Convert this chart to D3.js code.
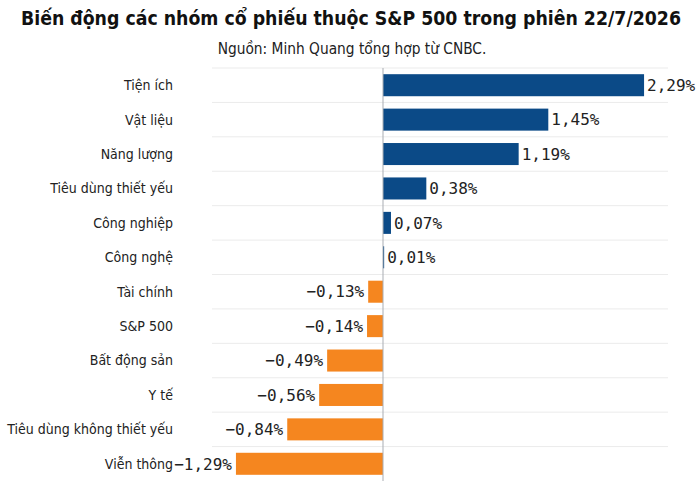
<!DOCTYPE html>
<html lang="vi">
<head>
<meta charset="UTF-8">
<script src="https://d3js.org/d3.v7.min.js"></script>
<style>
  body { margin: 0; background: #fff; }
  svg { display: block; }
</style>
</head>
<body>
<div id="chart"></div>
<script>
  var width = 700;
  var height = 481;

  // data
  const categories = ["Tiện ích", "Vật liệu", "Năng lượng", "Tiêu dùng thiết yếu", "Công nghiệp", "Công nghệ",
    "Tài chính", "S&P 500", "Bất động sản", "Y tế", "Tiêu dùng không thiết yếu", "Viễn thông"];
  const values = [2.29, 1.45, 1.19, 0.38, 0.07, 0.01, -0.13, -0.14, -0.49, -0.56, -0.84, -1.29];
  const xDomain = [-1.5, 2.5];

  const title = "Biến động các nhóm cổ phiếu thuộc S&P 500 trong phiên 22/7/2026";
  const subtitle = "Nguồn: Minh Quang tổng hợp từ CNBC.";

  const sans = "'DejaVu Sans Condensed', 'DejaVu Sans', sans-serif";
  const mono = "'DejaVu Sans Mono', monospace";

  const rows = categories.map((c, i) => ({ name: c, value: values[i] }));

  var svg = d3.select("#chart").append("svg")
    .attr("width", width).attr("height", height);

  const x = d3.scaleLinear().domain(xDomain).range([212, 668]);
  const y = d3.scaleBand().domain(categories).range([68, 481]).paddingInner(0.36).paddingOuter(0.18);

  // title + source
  svg.append("text").attr("x", 351).attr("y", 25)
    .attr("text-anchor", "middle")
    .style("font-family", sans).style("font-weight", "bold").style("font-size", "19.3px")
    .attr("fill", "#111").text(title);
  svg.append("text").attr("x", 352).attr("y", 54)
    .attr("text-anchor", "middle")
    .style("font-family", sans).style("font-size", "15.3px")
    .attr("fill", "#222").text(subtitle);

  // row separators
  const step = y.step();
  svg.append("g").selectAll("line").data(categories).enter().append("line")
    .attr("x1", x.range()[0]).attr("x2", x.range()[1])
    .attr("y1", d => y(d) - step * 0.18).attr("y2", d => y(d) - step * 0.18)
    .attr("stroke", "#ebebeb").attr("stroke-width", 1);

  // bars
  svg.append("g").selectAll("rect").data(rows).enter().append("rect")
    .attr("x", d => x(Math.min(0, d.value)))
    .attr("width", d => Math.abs(x(d.value) - x(0)))
    .attr("y", d => y(d.name))
    .attr("height", y.bandwidth())
    .attr("fill", d => d.value >= 0 ? "#0b4a87" : "#f5861f");

  // zero line
  svg.append("line")
    .attr("x1", x(0)).attr("x2", x(0))
    .attr("y1", 68).attr("y2", height)
    .attr("stroke", "#a9adb3").attr("stroke-width", 1);

  // category labels
  svg.append("g").selectAll("text").data(rows).enter().append("text")
    .attr("x", 173)
    .attr("y", d => y(d.name) + y.bandwidth() / 2)
    .attr("dy", "0.35em")
    .attr("text-anchor", "end")
    .style("font-family", sans).style("font-size", "14px")
    .attr("fill", "#222")
    .text(d => d.name);

  // value labels
  const fmt = v => (v < 0 ? "\u2212" : "") + Math.abs(v).toFixed(2).replace(".", ",") + "%";
  svg.append("g").selectAll("text").data(rows).enter().append("text")
    .attr("x", d => d.value >= 0 ? x(d.value) + 3 : x(d.value) - 4)
    .attr("y", d => y(d.name) + y.bandwidth() / 2)
    .attr("dy", "0.36em")
    .attr("text-anchor", d => d.value >= 0 ? "start" : "end")
    .style("font-family", mono).style("font-size", "16px")
    .attr("fill", "#222")
    .text(d => fmt(d.value));
</script>
</body>
</html>
